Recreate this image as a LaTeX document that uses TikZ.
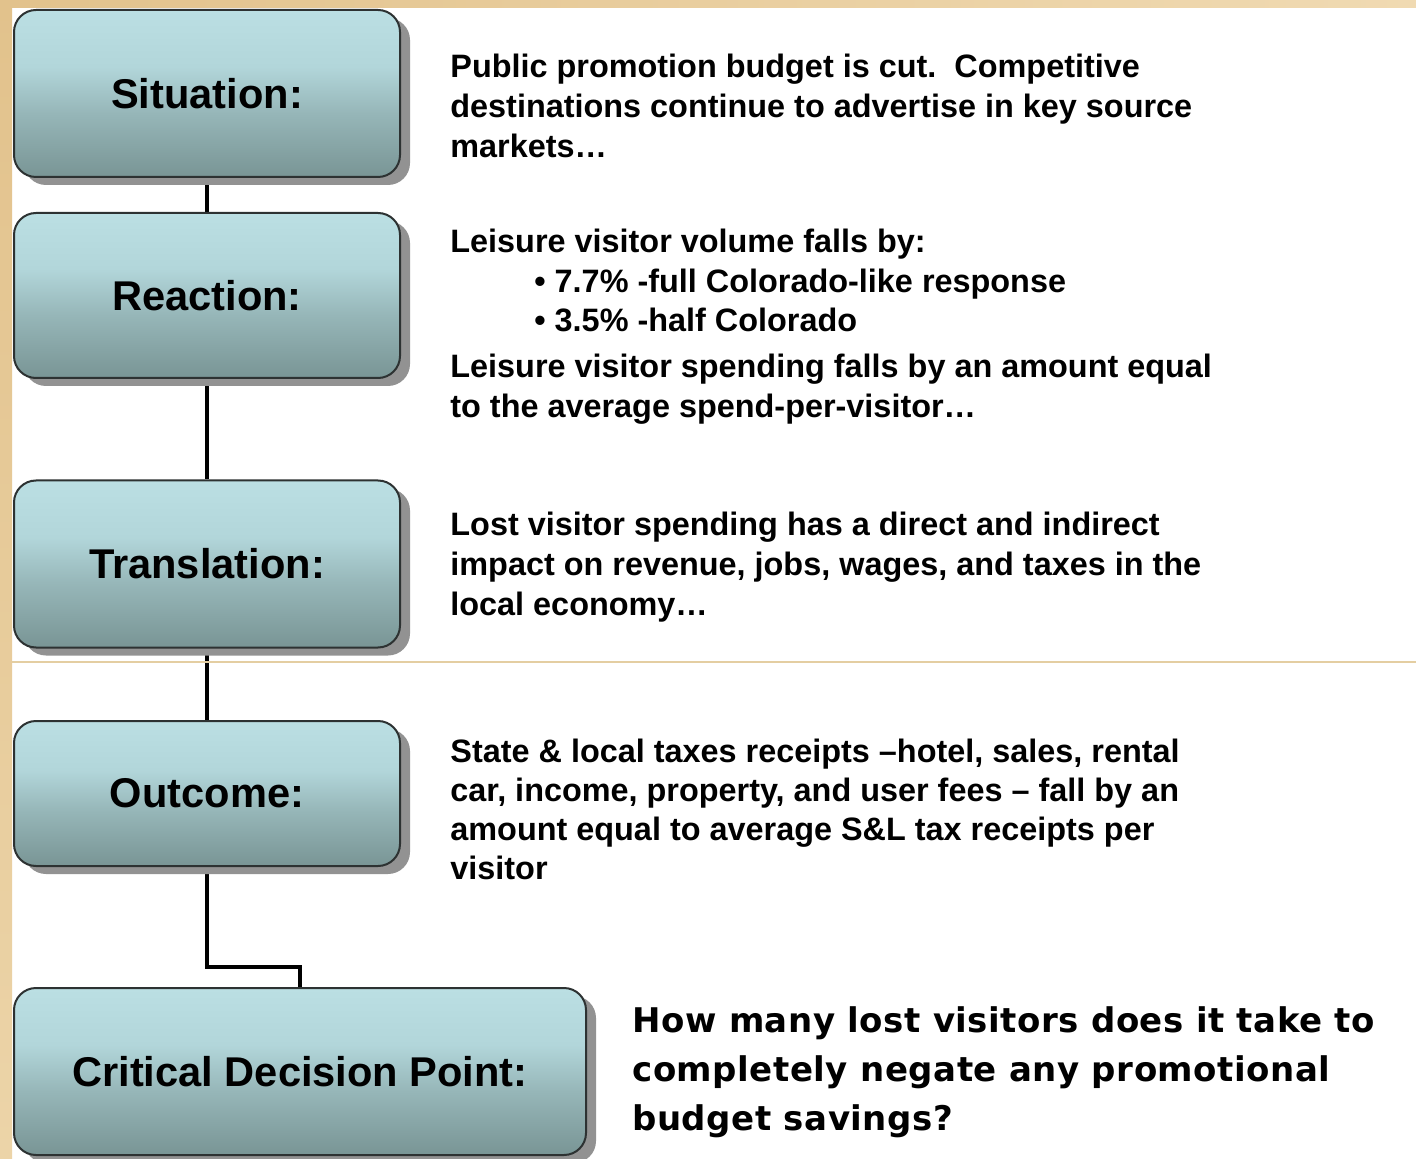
\documentclass[tikz,border=0pt]{standalone}
\usepackage{fontspec}
\setmainfont{Liberation Sans}
\newfontfamily\askfont[LetterSpace=1.5]{DejaVu Sans}
\usetikzlibrary{shadows,backgrounds}

\definecolor{boxtop}{RGB}{187,223,227}
\definecolor{boxupper}{RGB}{178,214,218}
\definecolor{boxmid}{RGB}{150,182,184}
\definecolor{boxbot}{RGB}{121,149,149}
\definecolor{boxline}{RGB}{45,50,50}
\definecolor{shadowgray}{RGB}{146,146,146}
\definecolor{tandark}{RGB}{226,194,140}
\definecolor{tanlight}{RGB}{236,212,168}
\definecolor{tanpale}{RGB}{240,218,178}
\definecolor{tanline}{RGB}{228,206,162}

% light at the top, dark teal at the bottom
\pgfdeclareverticalshading{stagefill}{100bp}{color(0bp)=(boxbot); color(25bp)=(boxbot);
  color(44bp)=(boxmid); color(58bp)=(boxupper); color(75bp)=(boxtop); color(100bp)=(boxtop)}

\begin{document}
\begin{tikzpicture}[
  x=0.5pt, y=-0.5pt,
  stagebox/.style={draw=boxline, line width=1pt, rounded corners=11pt,
    shade, shading=stagefill,
    drop shadow={shadow xshift=5pt, shadow yshift=-4pt, opacity=1, fill=shadowgray},
    minimum width=193pt, minimum height=83.5pt, inner sep=0pt,
    font=\fontsize{20.8pt}{24pt}\selectfont\bfseries},
  % descriptions are placed by the baseline of their last line
  note/.style={anchor=base west, inner sep=0pt, align=left,
    font=\fontsize{16.2pt}{20pt}\selectfont\bfseries},
  link/.style={line width=2pt}
]
\useasboundingbox (0,0) rectangle (1416,1159);

% stages
\coordinate (bend) at (300,967);
\node[stagebox] (sit) at (207,93.5) {Situation:};
\node[stagebox, minimum height=82.5pt] (rea) at (207,295.5) {Reaction:};
\node[stagebox] (tra) at (207,564) {Translation:};
\node[stagebox, minimum height=72.5pt] (out) at (207,793.5) {Outcome:};
\node[stagebox, minimum width=286pt] (cdp) at (300,1071.5) {Critical Decision Point:};

% slide background and connectors go under the boxes
\begin{pgfonlayer}{background}
\fill[white] (0,0) rectangle (1416,1159);
\shade[top color=tandark, bottom color=tanlight] (0,0) rectangle (12,1159);
\shade[left color=tandark, right color=tanpale] (0,0) rectangle (1416,8);
\path (sit) edge[link] (rea)
(rea) edge[link] (tra)
(tra) edge[link] (out)
;
\draw[link] (out.south) |- (bend) -- (cdp.north);
\draw[tanline, line width=1pt] (12,662) -- (1416,662);
\end{pgfonlayer}

% descriptions
\node[note] (sittxt) at (450,158) {Public promotion budget is cut.\ \ Competitive\\
  destinations continue to advertise in key source\\
  markets…};
\node[note] (reatxt) at (450,418) {Leisure visitor volume falls by:\\
  \hspace*{42pt}• 7.7\% -full Colorado-like response\\[-0.5pt]
  \hspace*{42pt}• 3.5\% -half Colorado\\[3pt]
  Leisure visitor spending falls by an amount equal\\
  to the average spend-per-visitor…};
\node[note] (tratxt) at (450,615) {Lost visitor spending has a direct and indirect\\
  impact on revenue, jobs, wages, and taxes in the\\
  local economy…};
\node[note, font=\fontsize{16.2pt}{19.5pt}\selectfont\bfseries] (outtxt) at (450,879)
  {State \& local taxes receipts –hotel, sales, rental\\
  car, income, property, and user fees – fall by an\\
  amount equal to average S\&L tax receipts per\\
  visitor};
\node[note, font=\askfont\fontsize{17pt}{24.3pt}\selectfont\bfseries] (cdptxt) at (632,1130)
  {How many lost visitors does it take to\\
  completely negate any promotional\\
  budget savings?};
\end{tikzpicture}
\end{document}
